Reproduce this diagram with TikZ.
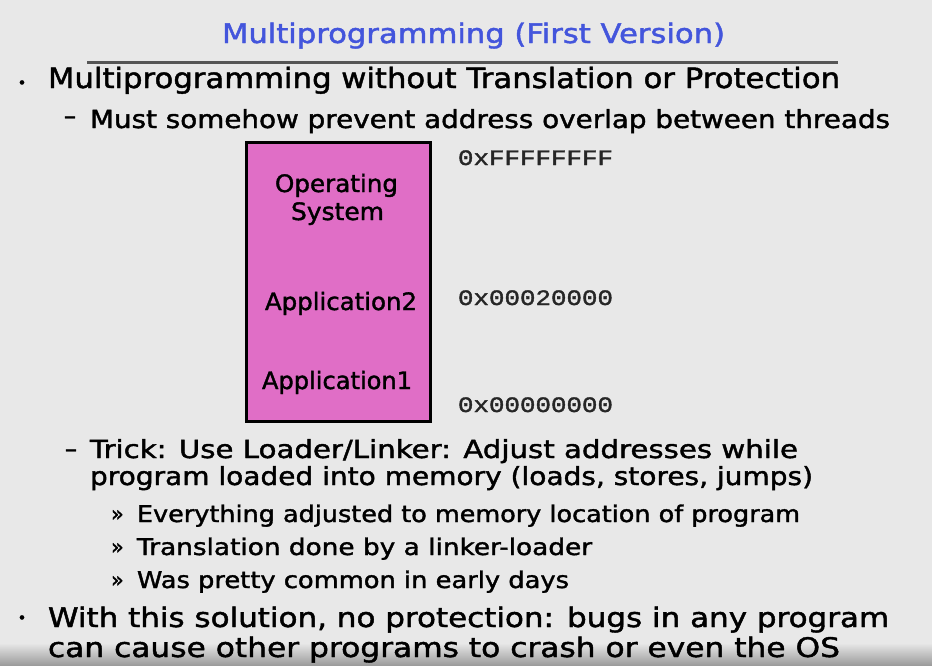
\documentclass[tikz,border=0pt]{standalone}
\usepackage{fontspec}
\setmainfont{DejaVu Sans}[FakeBold=1.5]
\newfontfamily\hexfont{Liberation Mono}[FakeBold=1.5]
\usepackage{graphicx}
\newsavebox\fitbox
\newcommand\fitto[2]{\sbox\fitbox{#2}\edef\fitfac{\fpeval{(#1)/(\the\wd\fitbox)}}\scalebox{\fitfac}[1]{\usebox\fitbox}}
\newcommand\fs[1]{\fontsize{#1}{#1}\selectfont}
\definecolor{bg}{HTML}{E8E8E8}
\definecolor{titleblue}{HTML}{4355DC}
\definecolor{boxpink}{HTML}{E06EC6}
\definecolor{rulegray}{HTML}{555555}
\definecolor{shadegray}{HTML}{9C9C9C}
\begin{document}
\begin{tikzpicture}[x=1pt,y=-1pt,
  txt/.style={anchor=base west,inner sep=0pt,outer sep=0pt,text=black},
  glyph/.style={anchor=base,inner sep=0pt,outer sep=0pt,text=black},
  hex/.style={txt,text=black!85},
  membox/.style={draw=black,line width=3pt,fill=boxpink,inner sep=0pt,
    minimum width=184pt,minimum height=279pt}]
\fill[bg] (0,0) rectangle (932,665);
\useasboundingbox (0,0) rectangle (932,665);
\shade[top color=bg,bottom color=shadegray] (0,643) rectangle (932,665);

% title and rule
\node[txt,text=titleblue] (title) at (222,43) {\fs{27}\fitto{503}{Multiprogramming (First Version)}};
\coordinate (rulel) at (87,62);
\coordinate (ruler) at (838,62);
\draw[rulegray,line width=3pt] (rulel) -- (ruler);

% first bullet
\node[glyph] (bul1) at (22,88) {\fs{15}•};
\node[txt] (l1) at (48,88) {\fs{28}\fitto{792}{Multiprogramming without Translation or Protection}};
\node[glyph] (dash1) at (70,124) {\fs{24}–};
\node[txt] (l2) at (90,128) {\fs{25}\fitto{800}{Must somehow prevent address overlap between threads}};

% memory box
\node[membox] (mem) at (338.5,282) {};
\node[txt] (os1) at (275,192) {\fs{24}\fitto{123}{Operating}};
\node[txt] (os2) at (291,220) {\fs{24}\fitto{93}{System}};
\node[txt] (app2) at (265,310) {\fs{24}\fitto{152}{Application2}};
\node[txt] (app1) at (262,389) {\fs{24}\fitto{150}{Application1}};

% addresses
\node[hex] (hexF) at (458,165) {\hexfont\fs{22}\fitto{155}{0xFFFFFFFF}};
\node[hex] (hex2) at (458,305) {\hexfont\fs{22}\fitto{155}{0x00020000}};
\node[hex] (hex0) at (458,412) {\hexfont\fs{22}\fitto{155}{0x00000000}};

% trick
\node[glyph] (dash2) at (71,457) {\fs{24}–};
\node[txt] (t1) at (90,458) {\fs{25}\fitto{708}{Trick: Use Loader/Linker: Adjust addresses while}};
\node[txt] (t2) at (90,485) {\fs{25}\fitto{723}{program loaded into memory (loads, stores, jumps)}};

% sub-sub bullets
\node[txt] (q1) at (111,521) {\fs{21}»};
\node[txt] (s1) at (137,522) {\fs{23}\fitto{663}{Everything adjusted to memory location of program}};
\node[txt] (q2) at (111,554) {\fs{21}»};
\node[txt] (s2) at (137,555) {\fs{23}\fitto{455}{Translation done by a linker-loader}};
\node[txt] (q3) at (111,587) {\fs{21}»};
\node[txt] (s3) at (137,588) {\fs{23}\fitto{432}{Was pretty common in early days}};

% second bullet
\node[glyph] (bul2) at (22,623) {\fs{15}•};
\node[txt] (w1) at (48,627) {\fs{27}\fitto{841}{With this solution, no protection: bugs in any program}};
\node[txt] (w2) at (48,657) {\fs{27}\fitto{792}{can cause other programs to crash or even the OS}};
\end{tikzpicture}
\end{document}
